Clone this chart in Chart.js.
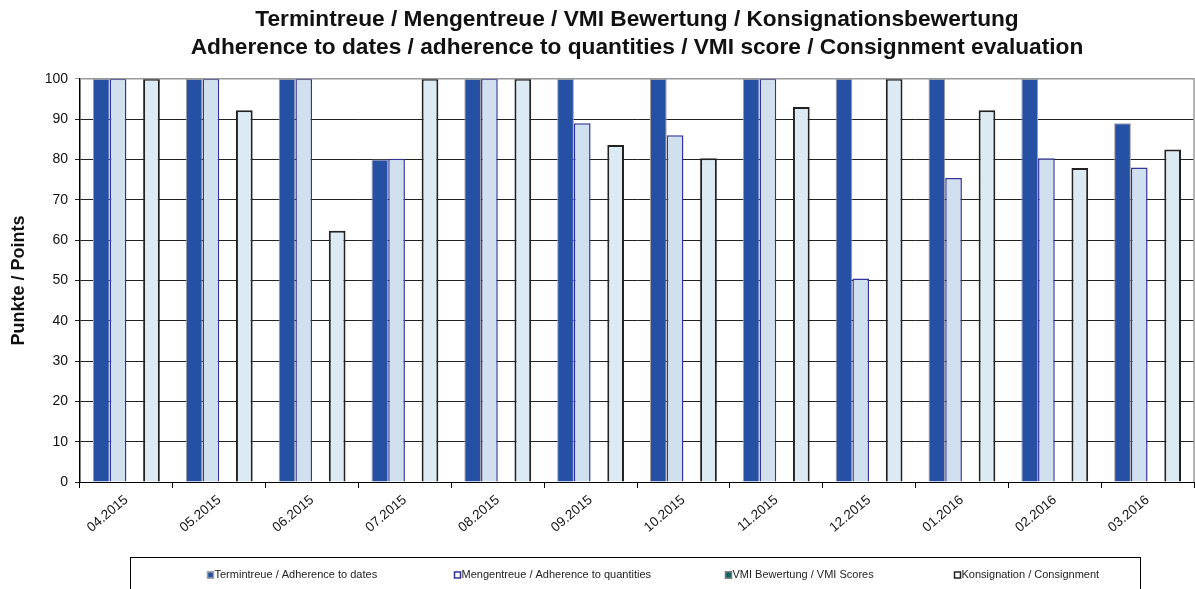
<!DOCTYPE html>
<html>
<head>
<meta charset="utf-8">
<script src="https://cdn.jsdelivr.net/npm/chart.js@4"></script>
<style>
  body { margin: 0; background: #fff; }
  #wrap { width: 1195px; height: 589px; }
</style>
</head>
<body>
<div id="wrap"><canvas id="myChart"></canvas></div>
<script>
// data
var monate = ['04.2015', '05.2015', '06.2015', '07.2015', '08.2015', '09.2015',
              '10.2015', '11.2015', '12.2015', '01.2016', '02.2016', '03.2016'];
var termintreue  = [100, 100, 100, 80, 100, 100, 100, 100, 100, 100, 100, 89];
var mengentreue  = [100, 100, 100, 80.2, 100, 89, 86, 100, 50.5, 75.4, 80.3, 78];
var vmiBewertung = [null, null, null, null, null, null, null, null, null, null, null, null];
var konsignation = [100, 92.2, 62.3, 100, 100, 83.6, 80.3, 93, 100, 92.2, 77.9, 82.5];
var yTicks = [0, 10, 20, 30, 40, 50, 60, 70, 80, 90, 100];

var fontFam = "'Liberation Sans', Arial, sans-serif";

// legend in a framed box + gray top/right border of the plot
var legendX = [210, 457, 728, 957];
var legendFill = ['#2550a3', '#ffffff', '#006666', '#ffffff'];
const rahmen = {
  id: 'rahmen',
  afterDraw: function(chart) {
    var c = chart.ctx, a = chart.chartArea;
    c.save();
    c.strokeStyle = '#9a9a9a';
    c.lineWidth = 1.5;
    c.beginPath();
    c.moveTo(a.left, a.top);
    c.lineTo(a.right, a.top);
    c.lineTo(a.right, a.bottom);
    c.stroke();

    c.strokeStyle = '#000';
    c.lineWidth = 1;
    c.strokeRect(130.5, 557.5, 1010, 40);

    c.font = '11px ' + fontFam;
    c.textBaseline = 'middle';
    chart.data.datasets.forEach(function(ds, i) {
      var x = legendX[i], y = 575;
      c.fillStyle = legendFill[i];
      c.fillRect(x - 3, y - 3.5, 7, 7);
      c.strokeStyle = ds.borderColor;
      c.lineWidth = 1.5;
      c.strokeRect(x - 2.5, y - 3, 6, 6);
      c.fillStyle = '#222';
      c.fillText(ds.label, x + 4.5, y);
    });
    c.restore();
  }
};

const ctx = document.getElementById('myChart');
new Chart(ctx, {
  type: 'bar',
  data: {
    labels: monate,
    datasets: [{
      label: 'Termintreue / Adherence to dates',
      data: termintreue,
      backgroundColor: '#2550a3',
      borderColor: '#a0a0a0',
      borderWidth: 1
    }, {
      label: 'Mengentreue / Adherence to quantities',
      data: mengentreue,
      backgroundColor: '#d0e0ee',
      borderColor: '#333399',
      borderWidth: 1.5
    }, {
      label: 'VMI Bewertung / VMI Scores',
      data: vmiBewertung,
      backgroundColor: '#006666',
      borderColor: '#777',
      borderWidth: 1
    }, {
      label: 'Konsignation / Consignment',
      data: konsignation,
      backgroundColor: '#dceaf4',
      borderColor: '#222',
      borderWidth: 2
    }]
  },
  options: {
    responsive: true,
    maintainAspectRatio: false,
    animation: false,
    layout: { padding: { left: 0, right: 1, top: 3, bottom: 35 } },
    datasets: {
      bar: { categoryPercentage: 0.72, barPercentage: 1.0, borderSkipped: 'bottom' }
    },
    plugins: {
      title: {
        display: true,
        fullSize: false,
        text: ['Termintreue / Mengentreue / VMI Bewertung / Konsignationsbewertung',
               'Adherence to dates / adherence to quantities / VMI score / Consignment evaluation'],
        color: '#111',
        font: { family: fontFam, size: 22.7, weight: 'bold', lineHeight: 1.23 },
        padding: { top: 3, bottom: 17 }
      },
      legend: { display: false },
      tooltip: { enabled: false }
    },
    scales: {
      x: {
        afterFit: function(s) { s.height = 72; },
        grid: { display: true, drawOnChartArea: false, drawTicks: true, tickLength: 6, color: '#000' },
        border: { color: '#000', width: 1 },
        ticks: {
          color: '#111',
          font: { family: fontFam, size: 13.5 },
          minRotation: 40,
          maxRotation: 40,
          padding: 4
        }
      },
      y: {
        min: 0,
        max: 100,
        afterFit: function(s) { s.width = 80; },
        afterBuildTicks: function(s) { s.ticks = yTicks.map(function(v) { return { value: v }; }); },
        grid: {
          color: function(c) { return c.tick && c.tick.value === 100 ? '#9a9a9a' : '#222'; },
          lineWidth: 1,
          tickLength: 5
        },
        border: { color: '#000', width: 1.5 },
        ticks: {
          color: '#111',
          font: { family: fontFam, size: 14 },
          padding: 7
        },
        title: {
          display: true,
          text: 'Punkte / Points',
          color: '#111',
          font: { family: fontFam, size: 18, weight: 'bold' },
          padding: { top: 8, bottom: 4 }
        }
      }
    }
  },
  plugins: [rahmen]
});
</script>
</body>
</html>
